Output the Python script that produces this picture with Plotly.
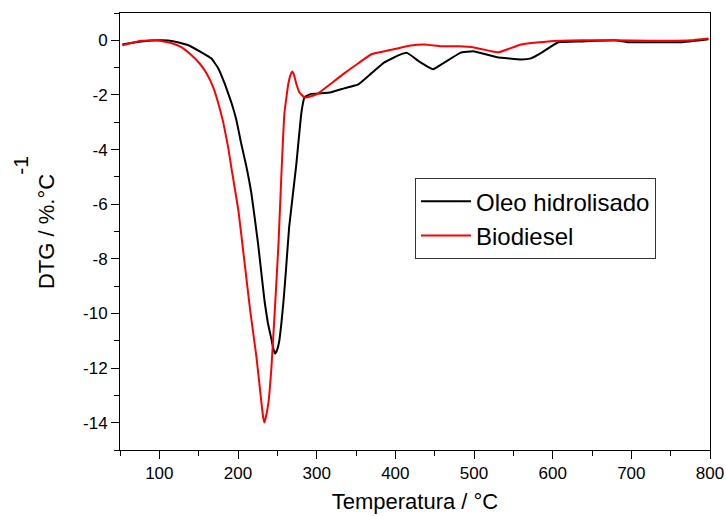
import plotly.graph_objects as go

# DTG curves (temperature in °C, DTG in %/°C)
oleo_temp = [53, 77, 103, 119, 137, 153, 166, 175, 183, 191.5, 198, 204, 210.5, 217,
             225.5, 230, 234, 238, 242.5, 245, 247, 249.5, 252.5, 255, 258, 261, 265,
             274, 280.5, 284.5, 293, 306, 318.5, 335, 353, 369.5, 386, 404, 415, 430,
             448, 461, 482.5, 499, 529.5, 560, 572.5, 585.5, 607, 636, 678, 696, 721,
             763, 798]
oleo_dtg = [-0.15, -0.04, 0.0, -0.04, -0.18, -0.43, -0.66, -1.03, -1.58, -2.27, -2.93,
            -3.77, -4.6, -5.6, -7.44, -8.6, -9.6, -10.35, -10.95, -11.3, -11.47, -11.35,
            -11.0, -10.4, -9.5, -8.4, -6.85, -4.58, -2.67, -2.09, -1.96, -1.94, -1.9,
            -1.76, -1.61, -1.21, -0.81, -0.55, -0.46, -0.77, -1.06, -0.84, -0.46, -0.4,
            -0.62, -0.7, -0.66, -0.46, -0.07, -0.04, 0.0, -0.07, -0.07, -0.07, 0.04]

bio_temp = [53, 77, 96, 115, 128, 141, 151, 160, 169, 175, 181.5, 187.5, 191.5, 200.5,
            208, 215.5, 223.5, 229.5, 232, 233.5, 235, 238.5, 242.5, 247.5, 251.5, 255,
            259, 264, 267, 269, 271, 274, 278, 284.5, 293, 302, 318.5, 335, 353, 369.5,
            386, 404, 417.5, 437, 458, 480, 500, 522, 531, 560, 594, 636, 680, 724,
            775, 798]
bio_dtg = [-0.18, -0.02, 0.0, -0.1, -0.25, -0.55, -0.84, -1.21, -1.76, -2.31, -3.04,
           -3.92, -4.65, -6.23, -8.06, -9.89, -11.61, -13.19, -13.8, -13.99, -13.85,
           -13.3, -11.98, -9.52, -7.44, -5.02, -2.67, -1.58, -1.25, -1.14, -1.25, -1.58,
           -1.9, -2.09, -2.05, -1.94, -1.58, -1.21, -0.84, -0.51, -0.4, -0.29, -0.2,
           -0.15, -0.22, -0.22, -0.26, -0.4, -0.44, -0.15, -0.04, 0.0, 0.0, -0.02, 0.0,
           0.07]

y_ticks = [0, -2, -4, -6, -8, -10, -12, -14]
y_tick_text = ["0", "-2", "-4", "-6", "-8", "-10", "-12", "-14"]
x_ticks = [100, 200, 300, 400, 500, 600, 700, 800]

FONT = "Arial, 'Liberation Sans', sans-serif"

fig = go.Figure()
fig.add_trace(go.Scatter(x=oleo_temp, y=oleo_dtg, mode="lines", name="Oleo hidrolisado",
                         line=dict(color="black", width=2, shape="spline", smoothing=0.3)))
fig.add_trace(go.Scatter(x=bio_temp, y=bio_dtg, mode="lines", name="Biodiesel",
                         line=dict(color="red", width=2, shape="spline", smoothing=0.3)))

fig.update_layout(
    width=726, height=516,
    margin=dict(l=120, r=16, t=13, b=66),
    plot_bgcolor="white", paper_bgcolor="white",
    font=dict(family=FONT, color="black", size=16),
    showlegend=True,
    legend=dict(x=0.5, y=0.622, xanchor="left", yanchor="top",
                bordercolor="#333333", borderwidth=1, bgcolor="white",
                font=dict(size=24, family=FONT), tracegroupgap=0,
                itemwidth=50),
    xaxis=dict(range=[50, 800], tickvals=x_ticks, ticks="outside", ticklen=8,
               tickwidth=1, tickcolor="black", showline=True, linecolor="black",
               linewidth=1, mirror=True, showgrid=False, zeroline=False,
               automargin=False, tickfont=dict(size=17),
               minor=dict(tickvals=[50, 150, 250, 350, 450, 550, 650, 750],
                          ticks="outside", ticklen=5, tickcolor="black"),
               title=dict(text="Temperatura / °C", font=dict(size=22), standoff=11)),
    yaxis=dict(range=[-15, 1], tickvals=y_ticks, ticktext=y_tick_text,
               ticks="outside", ticklen=8, tickwidth=1, tickcolor="black",
               showline=True, linecolor="black", linewidth=1, mirror=True,
               showgrid=False, zeroline=False, automargin=False,
               tickfont=dict(size=17),
               minor=dict(tickvals=[1, -1, -3, -5, -7, -9, -11, -13, -15],
                          ticks="outside", ticklen=5, tickcolor="black"),
               title=dict(text="DTG / %.°C", font=dict(size=22), standoff=22)),
)

# exponent of the y-axis unit
fig.add_annotation(text="-1", xref="paper", yref="paper", x=-0.17, y=0.652,
                   xanchor="center", yanchor="middle",
                   textangle=-90, showarrow=False, font=dict(size=21, family=FONT))

fig.write_html("out.html")
